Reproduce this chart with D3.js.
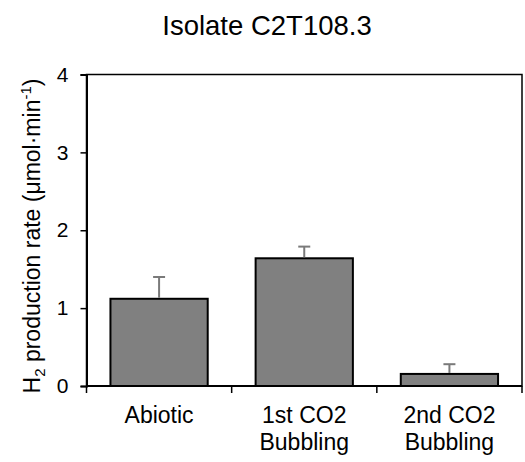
<!DOCTYPE html>
<html>
<head>
<meta charset="utf-8">
<script src="https://cdn.jsdelivr.net/npm/d3@7"></script>
<style>
  html, body { margin: 0; padding: 0; background: #fff; }
  svg { display: block; font-family: Arial, "Liberation Sans", sans-serif; }
</style>
</head>
<body>
<svg id="chart" width="525" height="462"></svg>
<script>
// Hydrogen production per treatment
const categories = [["Abiotic"], ["1st CO2", "Bubbling"], ["2nd CO2", "Bubbling"]];
const means = [1.12, 1.64, 0.155];
const errors = [0.28, 0.15, 0.125];
const yTicks = [0, 1, 2, 3, 4];

const svg = d3.select("#chart");
const margin = { left: 86.5, right: 3, top: 74.5, bottom: 76 };
const W = 525, H = 462;

const x = d3.scaleBand()
  .domain(d3.range(categories.length))
  .range([margin.left, W - margin.right])
  .paddingInner(0.33)
  .paddingOuter(0.165);

const y = d3.scaleLinear().domain([0, 4]).range([H - margin.bottom, margin.top]);

// Title
svg.append("text")
  .attr("x", 267).attr("y", 35)
  .attr("text-anchor", "middle")
  .attr("font-size", 27.5)
  .text("Isolate C2T108.3");

// Plot frame
svg.append("rect")
  .attr("x", margin.left).attr("y", y(4))
  .attr("width", W - margin.right - margin.left)
  .attr("height", y(0) - y(4))
  .attr("fill", "none").attr("stroke", "#000").attr("stroke-width", 1.5);

// Bars
svg.selectAll("rect.bar").data(means).join("rect")
  .attr("class", "bar")
  .attr("x", (d, i) => x(i))
  .attr("y", d => y(d))
  .attr("width", x.bandwidth())
  .attr("height", d => y(0) - y(d))
  .attr("fill", "#808080")
  .attr("stroke", "#000").attr("stroke-width", 2);

// Error bars (upper half only)
const eb = svg.selectAll("g.err").data(means).join("g").attr("class", "err")
  .attr("stroke", "#7a7a7a").attr("stroke-width", 2);
eb.append("line")
  .attr("x1", (d, i) => x(i) + x.bandwidth() / 2)
  .attr("x2", (d, i) => x(i) + x.bandwidth() / 2)
  .attr("y1", d => y(d) - 1)
  .attr("y2", (d, i) => y(d + errors[i]));
eb.append("line")
  .attr("x1", (d, i) => x(i) + x.bandwidth() / 2 - 6)
  .attr("x2", (d, i) => x(i) + x.bandwidth() / 2 + 6)
  .attr("y1", (d, i) => y(d + errors[i]))
  .attr("y2", (d, i) => y(d + errors[i]));

// Y axis
const yAxis = svg.append("g")
  .attr("transform", `translate(${margin.left},0)`)
  .call(d3.axisLeft(y).tickValues(yTicks).tickFormat(d3.format("d")).tickSize(6).tickPadding(12));
yAxis.select(".domain").attr("stroke-width", 2);
yAxis.selectAll(".tick line").attr("stroke-width", 1.5);
yAxis.selectAll(".tick text").attr("font-size", 21).attr("font-family", "Arial, 'Liberation Sans', sans-serif").attr("fill", "#000");

// X axis: category boundaries marked with ticks below the baseline
const boundaryX = d3.range(categories.length + 1).map(i =>
  i < categories.length ? x(i) - x.step() * x.paddingInner() / 2 : x(i - 1) + x.bandwidth() + x.step() * x.paddingInner() / 2);
svg.append("line")
  .attr("x1", margin.left).attr("x2", W - margin.right)
  .attr("y1", y(0)).attr("y2", y(0))
  .attr("stroke", "#000").attr("stroke-width", 2);
svg.selectAll("line.xtick").data(boundaryX).join("line")
  .attr("class", "xtick")
  .attr("x1", d => d).attr("x2", d => d)
  .attr("y1", y(0)).attr("y2", y(0) + 7)
  .attr("stroke", "#000").attr("stroke-width", 1.5);

// Category labels
const lab = svg.selectAll("text.cat").data(categories).join("text")
  .attr("class", "cat")
  .attr("text-anchor", "middle")
  .attr("font-size", 23)
  .attr("x", (d, i) => x(i) + x.bandwidth() / 2)
  .attr("y", 423);
lab.selectAll("tspan").data(d => d).join("tspan")
  .attr("x", function () { return d3.select(this.parentNode).attr("x"); })
  .attr("dy", (d, j) => j === 0 ? 0 : 27)
  .text(d => d);

// Y axis title
const yt = svg.append("text")
  .attr("transform", "translate(40,236) rotate(-90)")
  .attr("text-anchor", "middle")
  .attr("font-size", 23);
yt.append("tspan").text("H");
yt.append("tspan").attr("font-size", 15).attr("dy", 5).text("2");
yt.append("tspan").attr("dy", -5).text(" production rate (μmol·min");
yt.append("tspan").attr("font-size", 15).attr("dy", -9).text("-1");
yt.append("tspan").attr("dy", 9).text(")");
</script>
</body>
</html>
